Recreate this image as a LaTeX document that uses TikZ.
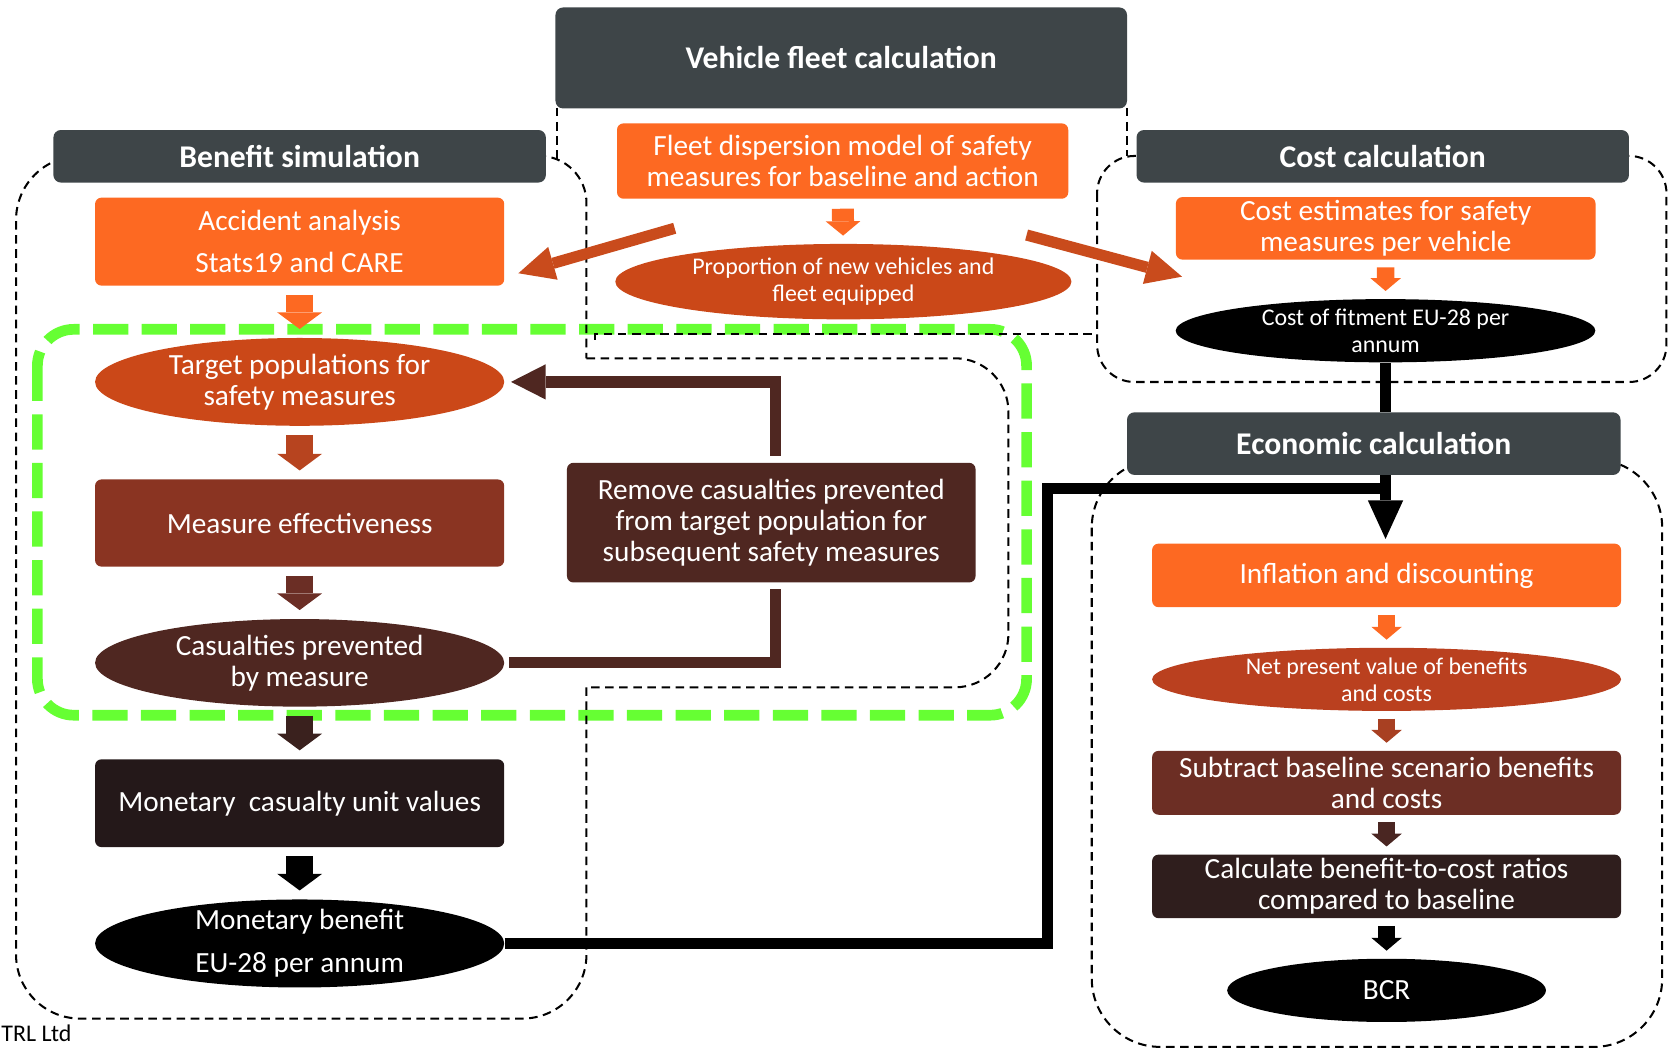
\documentclass[tikz,border=0pt]{standalone}
\usepackage{fontspec}
\setmainfont{Carlito}
\usetikzlibrary{shapes.geometric, arrows.meta}

\definecolor{hdrgray}{HTML}{3E4548}
\definecolor{boxorange}{HTML}{FD6922}
\definecolor{ovalorange}{HTML}{CB4818}
\definecolor{diagorange}{HTML}{C94B1C}
\definecolor{measbrown}{HTML}{8A3422}
\definecolor{casbrown}{HTML}{4F2721}
\definecolor{mondark}{HTML}{241819}
\definecolor{npvorange}{HTML}{BA401F}
\definecolor{subbrown}{HTML}{6C2E24}
\definecolor{calcdark}{HTML}{2F1E1D}
\definecolor{loopgreen}{HTML}{66FF33}
\definecolor{arrtgt}{HTML}{B7441F}
\definecolor{arrmeas}{HTML}{6B2E25}
\definecolor{arrcas}{HTML}{3A211E}
\definecolor{arrnpv}{HTML}{A84022}
\definecolor{arrsub}{HTML}{4A2622}

\newcommand{\mainsize}{\fontsize{13.7}{14.5}\selectfont}
\newcommand{\smallsize}{\fontsize{11.2}{12.6}\selectfont}
\newcommand{\headsize}{\fontsize{14.8}{16}\selectfont\bfseries}

\tikzset{
  header/.style={fill=hdrgray, rounded corners=3.5pt, text=white, font=\headsize, inner sep=0pt},
  stepbox/.style={rounded corners=3pt, text=white, align=center, inner sep=0pt, font=\mainsize},
  oval/.style={ellipse, text=white, align=center, inner sep=-1.5pt, font=\mainsize},
  region/.style={line width=0.95pt, dash pattern=on 4pt off 2.6pt},
  loopregion/.style={draw=loopgreen, line width=5pt, dash pattern=on 16.5pt off 6.25pt},
  bigarr/.style={line width=12.5pt, -{Triangle[width=21pt, length=7.8pt, line width=0pt]}, shorten <=4pt, shorten >=4pt},
  midarr/.style={line width=10.3pt, -{Triangle[width=16.2pt, length=6.7pt, line width=0pt]}, shorten <=4.5pt, shorten >=3.7pt},
  smallarr/.style={line width=8.25pt, -{Triangle[width=14.25pt, length=6pt, line width=0pt]}, shorten <=3.4pt, shorten >=3.6pt},
  diagarr/.style={diagorange, line width=5.25pt, -{Triangle[width=16pt, length=16.8pt, line width=0pt]}},
  fbline/.style={casbrown, line width=5.25pt},
  blackline/.style={black, line width=5.5pt},
}

\begin{document}
\begin{tikzpicture}[x=0.5pt, y=-0.5pt]
\useasboundingbox (0, 0) rectangle (1568, 984);
\draw [loopregion, rounded corners=17pt] (35, 308.3) rectangle (961, 669.5);
\draw [region, rounded corners=22pt] (490, 146) -- (549, 146) -- (549, 335.4);
\draw [region, rounded corners=25pt] (549, 335.4) -- (944, 335.4) -- (944, 643.4) -- (549, 643.4);
\draw [region, rounded corners=30pt] (549, 643.4) -- (549, 953.5) -- (15, 953.5) -- (15, 146) -- (100, 146);
\draw [region] (521, 101) -- (521, 149) (557, 318) -- (557, 313) -- (1022, 313) (1055, 101) -- (1055, 146);
\draw [region, rounded corners=17.5pt] (1027, 146) rectangle (1560, 357.6);
\draw [region, rounded corners=32pt] (1022, 430) rectangle (1556, 980);
\node [header, minimum width=267.5pt, minimum height=47.25pt] (vfh) at (787.5, 54.25) {Vehicle fleet calculation};
\node [header, minimum width=230.5pt, minimum height=24.6pt] (bsh) at (280.5, 146.3) {Benefit simulation};
\node [header, minimum width=230.5pt, minimum height=24.6pt] (cch) at (1294.4, 146.3) {Cost calculation};
\node [header, minimum width=231pt, minimum height=29.3pt] (ech) at (1286, 415.3) {Economic calculation};
\node [stepbox, fill=boxorange, minimum width=211.2pt, minimum height=35.25pt] (fleet) at (788.8, 150.75) {Fleet dispersion model of safety\\measures for baseline and action};
\node [oval, fill=ovalorange, minimum width=213.5pt, minimum height=35.3pt, font=\smallsize] (prop) at (789.5, 263.65) {Proportion of new vehicles and\\fleet equipped};
\node [stepbox, fill=boxorange, minimum width=191.5pt, minimum height=41.2pt] (acc) at (280.5, 226.2) {Accident analysis\\[5pt]Stats19 and CARE};
\node [oval, fill=ovalorange, minimum width=191.5pt, minimum height=41.1pt] (tgt) at (280.5, 357.5) {Target populations for\\safety measures};
\node [stepbox, fill=measbrown, minimum width=191.5pt, minimum height=40.8pt] (meas) at (280.5, 489.6) {Measure effectiveness};
\node [oval, fill=casbrown, minimum width=191.5pt, minimum height=41pt] (cas) at (280.5, 620.5) {Casualties prevented\\by measure};
\node [stepbox, fill=mondark, minimum width=191.5pt, minimum height=41.1pt] (mon) at (280.5, 751.9) {Monetary\ \ casualty unit values};
\node [oval, fill=black, minimum width=191.5pt, minimum height=41.2pt] (mben) at (280.5, 883.2) {Monetary benefit\\[5.8pt]EU-28 per annum};
\node [stepbox, fill=casbrown, minimum width=191.25pt, minimum height=56pt] (rem) at (722, 489.25) {Remove casualties prevented\\from target population for\\subsequent safety measures};
\node [stepbox, fill=boxorange, minimum width=196.4pt, minimum height=29.25pt] (cest) at (1297.2, 213.75) {Cost estimates for safety\\measures per vehicle};
\node [oval, fill=black, minimum width=196.4pt, minimum height=29.6pt, font=\smallsize] (fit) at (1297, 309.6) {Cost of fitment EU-28 per\\annum};
\node [stepbox, fill=boxorange, minimum width=219.5pt, minimum height=29.75pt] (infl) at (1298, 538.65) {Inflation and discounting};
\node [oval, fill=npvorange, minimum width=219.5pt, minimum height=29.55pt, font=\smallsize] (npv) at (1298, 635.95) {Net present value of benefits\\and costs};
\node [stepbox, fill=subbrown, minimum width=219.5pt, minimum height=29.9pt] (sub) at (1298, 732.8) {Subtract baseline scenario benefits\\and costs};
\node [stepbox, fill=calcdark, minimum width=219.5pt, minimum height=29.75pt] (calc) at (1298, 829.75) {Calculate benefit-to-cost ratios\\compared to baseline};
\node [oval, fill=black, minimum width=149.2pt, minimum height=29.6pt] (bcr) at (1298, 927.1) {BCR};
\node [font=\fontsize{11.2}{12}\selectfont, anchor=base west, inner sep=0pt] (trl) at (1, 975) {TRL Ltd};
\draw [bigarr, boxorange] (acc) -- (tgt);
\draw [bigarr, arrtgt] (tgt) -- (meas);
\draw [bigarr, arrmeas] (meas) -- (cas);
\draw [bigarr, arrcas] (cas) -- (mon);
\draw [bigarr, black] (mon) -- (mben);
\draw [midarr, boxorange] (fleet) -- (prop);
\draw [smallarr, boxorange] (cest) -- (fit);
\draw [smallarr, boxorange] (infl) -- (npv);
\draw [smallarr, arrnpv] (npv) -- (sub);
\draw [smallarr, arrsub] (sub) -- (calc);
\draw [smallarr, black] (calc) -- (bcr);
\coordinate (dlt) at (631.6, 213.7);
\coordinate (dlh) at (485.3, 255.8);
\coordinate (drt) at (961, 220);
\coordinate (drh) at (1106.5, 259);
\draw [diagarr] (dlt) -- (dlh);
\draw [diagarr] (drt) -- (drh);
\draw [fbline, shorten <=2pt, shorten >=3pt] (cas.east) -| ([xshift=2pt]rem.south);
\draw [fbline, -{Triangle[width=16.5pt, length=16.2pt, line width=0pt]}, shorten <=3pt, shorten >=3pt] ([xshift=2pt]rem.north) |- (tgt.east);
\draw [blackline] (fit.south) -- (fit.south |- ech.north);
\draw [blackline, -{Triangle[width=16.5pt, length=18pt, line width=0pt]}, shorten >=2pt] (ech.south -| fit.south) -- (fit.south |- infl.north);
\coordinate (bend) at (980.5, 457);
\draw [blackline, line width=5pt] (mben.east) -| (bend) -- (bend -| fit.south);
\end{tikzpicture}
\end{document}
